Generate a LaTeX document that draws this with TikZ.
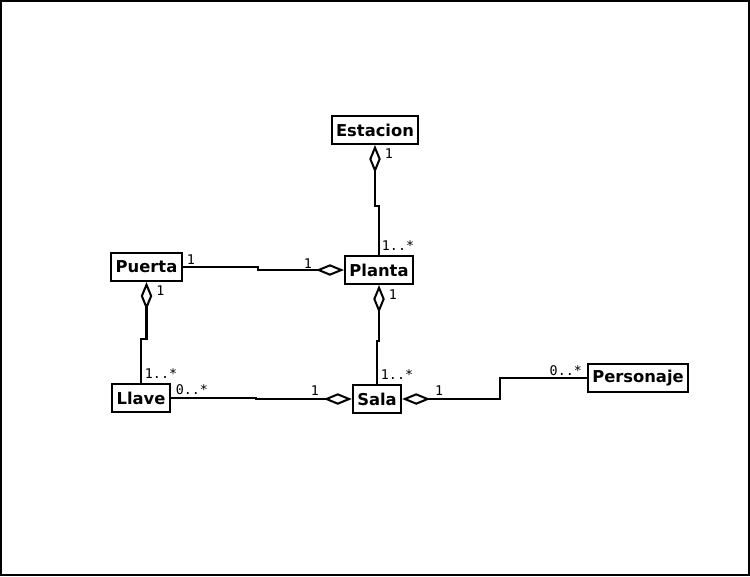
\documentclass[tikz,border=0pt]{standalone}
\usepackage{fontspec}
\setmainfont{DejaVu Sans}
\newfontfamily\multfont{DejaVu Sans Mono}
\usetikzlibrary{arrows.meta,positioning}

\begin{document}
\begin{tikzpicture}[x=0.02cm,y=-0.02cm,line width=1.15pt,
  clase/.style={draw,font=\bfseries\fontsize{9.3}{10}\selectfont,minimum height=0.56cm,inner xsep=0.09cm,inner ysep=0pt},
  mult/.style={font=\multfont\fontsize{7.6}{8}\selectfont,inner sep=1pt},
  agreg/.style={-{Diamond[open,length=0.56cm,width=0.23cm,line width=1.15pt]}}]
% frame
\useasboundingbox (0,0) rectangle (750,576);
\draw (1,1) rectangle (749,575);

% classes
\node[clase] (Estacion) at (375,130) {Estacion};
\node[clase] (Puerta) at (146.5,267) {Puerta};
\node[clase] (Planta) at (379,270) {Planta};
\node[clase] (Llave) at (141,398) {Llave};
\node[clase] (Sala) at (377,399) {Sala};
\node[clase] (Personaje) at (638,378) {Personaje};

% aggregations
\draw[agreg] (Planta.north) -- ++(0,-49) -| (Estacion.south);
\draw[agreg] (Puerta.east) -- ++(75,0) |- (Planta.west);
\draw[agreg] (Llave.north) -- ++(0,-44) -| (Puerta.south);
\draw[agreg] (Sala.north) -- ++(0,-43) -| (Planta.south);
\draw[agreg] (Llave.east) -- ++(85,0) |- (Sala.west);
\draw[agreg] (Personaje.west) -- ++(-87,0) |- (Sala.east);

% multiplicities
\node[mult] (mEst) at ([shift={(14,9)}]Estacion.south) {1};
\node[mult] (mPlaN) at ([shift={(19,-9)}]Planta.north) {1..*};
\node[mult] (mPueE) at ([shift={(8,-7)}]Puerta.east) {1};
\node[mult] (mPlaW) at ([shift={(-36,-6)}]Planta.west) {1};
\node[mult] (mPueS) at ([shift={(14,9)}]Puerta.south) {1};
\node[mult] (mLlaN) at ([shift={(20,-9)}]Llave.north) {1..*};
\node[mult] (mPlaS) at ([shift={(14,10)}]Planta.south) {1};
\node[mult] (mSalN) at ([shift={(20,-9)}]Sala.north) {1..*};
\node[mult] (mLlaE) at ([shift={(21,-8)}]Llave.east) {0..*};
\node[mult] (mSalW) at ([shift={(-37,-8)}]Sala.west) {1};
\node[mult] (mSalE) at ([shift={(37,-8)}]Sala.east) {1};
\node[mult] (mPerW) at ([shift={(-21,-7)}]Personaje.west) {0..*};
\end{tikzpicture}
\end{document}
